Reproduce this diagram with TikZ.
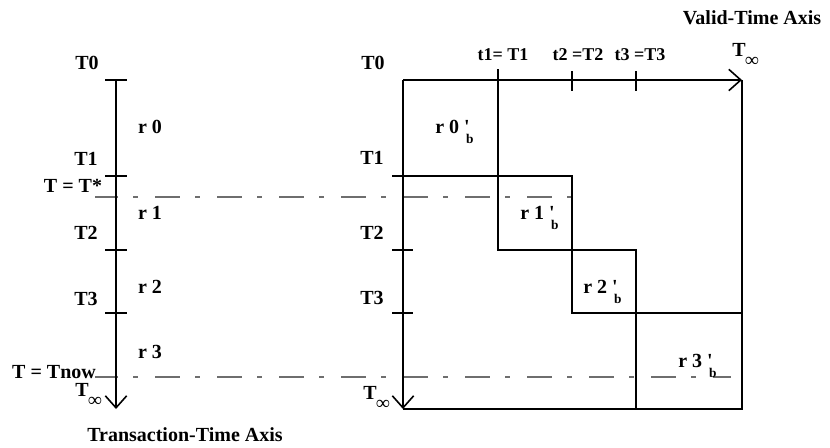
\documentclass[tikz,border=0pt]{standalone}
\usepackage{fontspec}
\setmainfont{Liberation Serif}
\usetikzlibrary{arrows.meta}
\definecolor{dashgray}{RGB}{110,110,110}
\newcommand{\Tinf}{T\kern-0.03em\raisebox{-0.5em}{\fontsize{14.5}{14.5}\selectfont ∞}}
\newcommand{\rbl}[1]{r #1 \rlap{\textquotesingle}\kern1.5pt\raisebox{-0.5em}{\fontsize{10}{10}\selectfont b}}
\begin{document}
\begin{tikzpicture}[x=0.75pt,y=-0.75pt,
  lbl/.style={font=\bfseries\fontsize{15}{15}\selectfont, inner sep=0pt},
  small/.style={font=\bfseries\fontsize{13.5}{13.5}\selectfont, inner sep=0pt},
  axis/.style={line width=1.2pt, black},
  axisarrow/.style={-{Straight Barb[length=9pt,width=16pt]}},
  dashline/.style={line width=0.8pt, draw=dashgray,
    dash pattern=on 18.75pt off 11.25pt on 3.75pt off 12.75pt, dash phase=1.5pt}]
\useasboundingbox (0,0) rectangle (830,447);

% dashed reference lines
\coordinate (D1a) at (95,197);
\coordinate (D1b) at (572,197);
\coordinate (D2a) at (95,377);
\coordinate (D2b) at (731,377);
\draw[dashline] (D1a) -- (D1b);
\draw[dashline] (D2a) -- (D2b);

% left transaction-time axis
\coordinate (LA0) at (116,80);
\coordinate (LAend) at (116,409);
\draw[axis,axisarrow] (LA0) -- (LAend);
\foreach \yy in {80,176,250,313} \draw[axis] (105,\yy) -- (127,\yy);

% right diagram
\coordinate (O) at (403,80);
\coordinate (XE) at (742,80);
\coordinate (YE) at (403,409);
\coordinate (C) at (742,409);
\draw[axis,axisarrow] (O) -- (XE);
\draw[axis,axisarrow] (O) -- (YE);
\draw[axis] (XE) -- (C) -- (YE);
\foreach \yy in {176,250,313} \draw[axis] (392,\yy) -- (413,\yy);
\draw[axis] (572,71) -- (572,91);
\draw[axis] (636,71) -- (636,91);
\draw[axis] (498,69) -- (498,250) -- (636,250) -- (636,409);
\draw[axis] (403,176) -- (572,176) -- (572,313) -- (742,313);

% left labels
\node[lbl] (lT0) at (87,63) {T0};
\node[lbl] (lr0) at (150,127) {r 0};
\node[lbl] (lT1) at (86,159) {T1};
\node[lbl] (lTs) at (73,186) {T = T*};
\node[lbl] (lr1) at (150,213) {r 1};
\node[lbl] (lT2) at (86,233) {T2};
\node[lbl] (lr2) at (150,287) {r 2};
\node[lbl] (lT3) at (86,299) {T3};
\node[lbl] (lr3) at (150,352) {r 3};
\node[lbl] (lTn) at (54,372) {T = Tnow};
\node[lbl,anchor=base west] (lTi) at (75,396.5) {\Tinf};
\node[lbl] (tta) at (185,435) {Transaction-Time Axis};

% right labels
\node[lbl] (rT0) at (373,63) {T0};
\node[lbl] (rT1) at (372,158) {T1};
\node[lbl] (rT2) at (372,233) {T2};
\node[lbl] (rT3) at (372,298) {T3};
\node[lbl,anchor=base west] (rTi) at (363,399.5) {\Tinf};
\node[small] (t1) at (503,55) {t1= T1};
\node[small] (t2) at (578,55) {t2 =T2};
\node[small] (t3) at (640,55) {t3 =T3};
\node[lbl,anchor=base west] (xTi) at (732,56.5) {\Tinf};
\node[lbl] (vta) at (752,18) {Valid-Time Axis};

% box labels
\node[lbl,anchor=base west] (b0) at (435,133.5) {\rbl{0}};
\node[lbl,anchor=base west] (b1) at (520,219.5) {\rbl{1}};
\node[lbl,anchor=base west] (b2) at (583,293.5) {\rbl{2}};
\node[lbl,anchor=base west] (b3) at (678,367.5) {\rbl{3}};
\end{tikzpicture}
\end{document}
